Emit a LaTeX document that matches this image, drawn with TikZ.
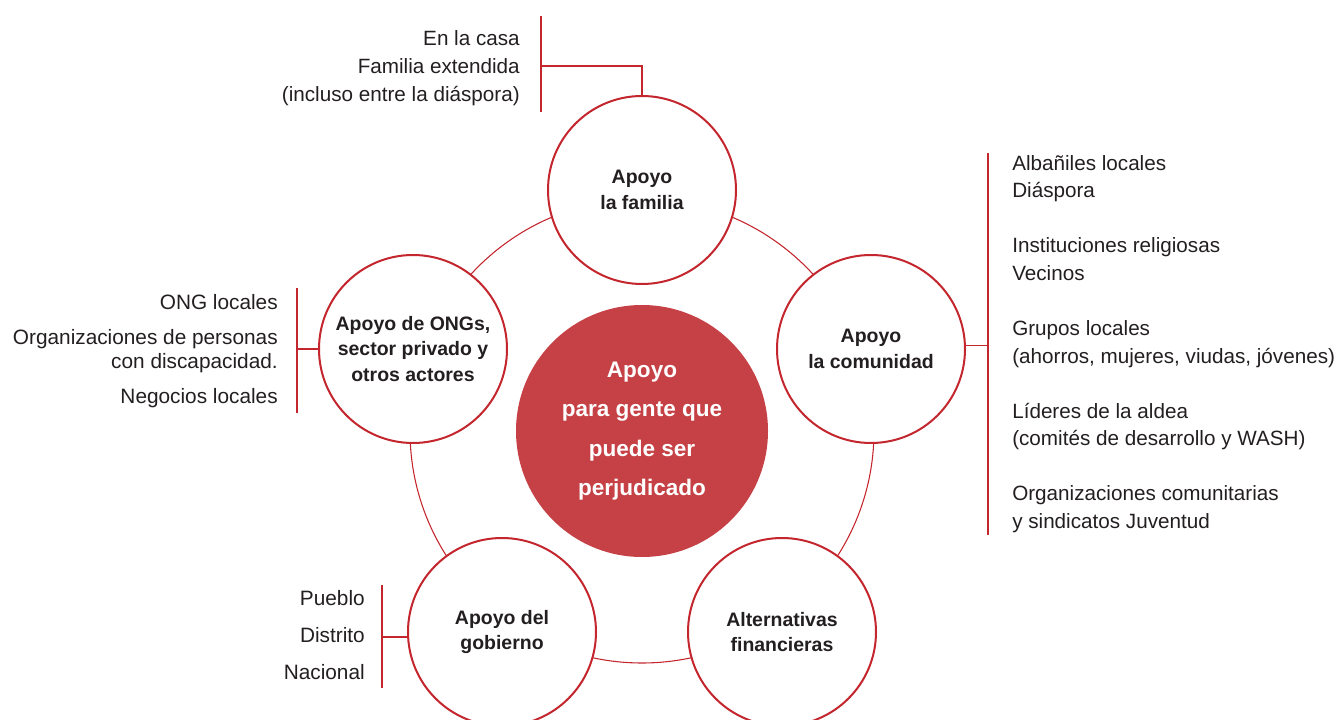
\documentclass[tikz,border=0pt]{standalone}
\usepackage{xcolor}
\usepackage{fontspec}
\setmainfont{Liberation Sans}
\usepackage{tikz}
\usetikzlibrary{positioning, calc}
\definecolor{aid-red}{HTML}{C4262E}
\definecolor{aid-fill}{HTML}{C64145}
\definecolor{aid-ink}{HTML}{231F20}
\tikzset{
    support/.style={circle, draw=aid-red, line width=1.5pt, fill=white, minimum size=141pt, inner sep=0pt, align=center, text=aid-ink, font=\bfseries\fontsize{14.6}{19}\selectfont},
    core/.style={circle, fill=aid-fill, minimum size=189pt, inner sep=0pt, align=center, text=white, font=\bfseries\fontsize{16.9}{29.5}\selectfont},
    ring/.style={draw=aid-red, line width=0.8pt},
    bracket/.style={draw=aid-red, line width=1.1pt},
    listtext/.style={text=aid-ink, inner sep=0pt, font=\fontsize{15.5}{20.8}\selectfont}
}

\begin{document}
\begin{tikzpicture}[x=0.75pt, y=-0.75pt]
    \useasboundingbox (0,0) rectangle (1336,720);

    \node (core) [core] at (642,431) {Apoyo\\para gente que\\puede ser\\perjudicado};
    \draw [ring] (core.center) circle [radius=174pt];

    \node (fam) [support] at (642,190) {Apoyo\\la familia};
    \node (com) [support] at (871,349) {Apoyo\\la comunidad};
    \node (ong) [support] at (413,349) {Apoyo de ONGs,\\sector privado y\\otros actores};
    \node (gov) [support] at (502,632) {Apoyo del\\gobierno};
    \node (fin) [support] at (782,632) {Alternativas\\financieras};

    \node (famlist) [listtext, anchor=east, align=right] at (520,68) {En la casa\\Familia extendida\\(incluso entre la diáspora)};
    \coordinate (famtop) at (541,16);
    \coordinate (fambot) at (541,112);
    \coordinate (famjoin) at (541,66);
    \draw [bracket] (famtop) -- (fambot);
    \draw [bracket] (fam.north) |- (famjoin);

    \node (comlist) [listtext, anchor=west, align=left] at (1012,344) {Albañiles locales\\Diáspora\\[20.4pt]Instituciones religiosas\\Vecinos\\[20.4pt]Grupos locales\\(ahorros, mujeres, viudas, jóvenes)\\[20.4pt]Líderes de la aldea\\(comités de desarrollo y WASH)\\[20.4pt]Organizaciones comunitarias\\y sindicatos Juventud};
    \coordinate (comtop) at (988,153);
    \coordinate (combot) at (988,535);
    \draw [bracket] (comtop) -- (combot);
    \draw [bracket] (com.2) -- (com.2 -| comtop);

    \node (onglist) [listtext, anchor=east, align=right, font=\fontsize{15.6}{18}\selectfont] at (278,351) {ONG locales\\[8.25pt]Organizaciones de personas\\con discapacidad.\\[8.25pt]Negocios locales};
    \coordinate (ongtop) at (297,288);
    \coordinate (ongbot) at (297,413);
    \draw [bracket] (ongtop) -- (ongbot);
    \draw [bracket] (ong.west) -- (ong.west -| ongtop);

    \node (govlist) [listtext, anchor=east, align=right, font=\fontsize{15.6}{28}\selectfont] at (365,635) {Pueblo\\Distrito\\Nacional};
    \coordinate (govtop) at (382,585);
    \coordinate (govbot) at (382,688);
    \draw [bracket] (govtop) -- (govbot);
    \draw [bracket] (gov.183) -- (gov.183 -| govtop);
\end{tikzpicture}
\end{document}
